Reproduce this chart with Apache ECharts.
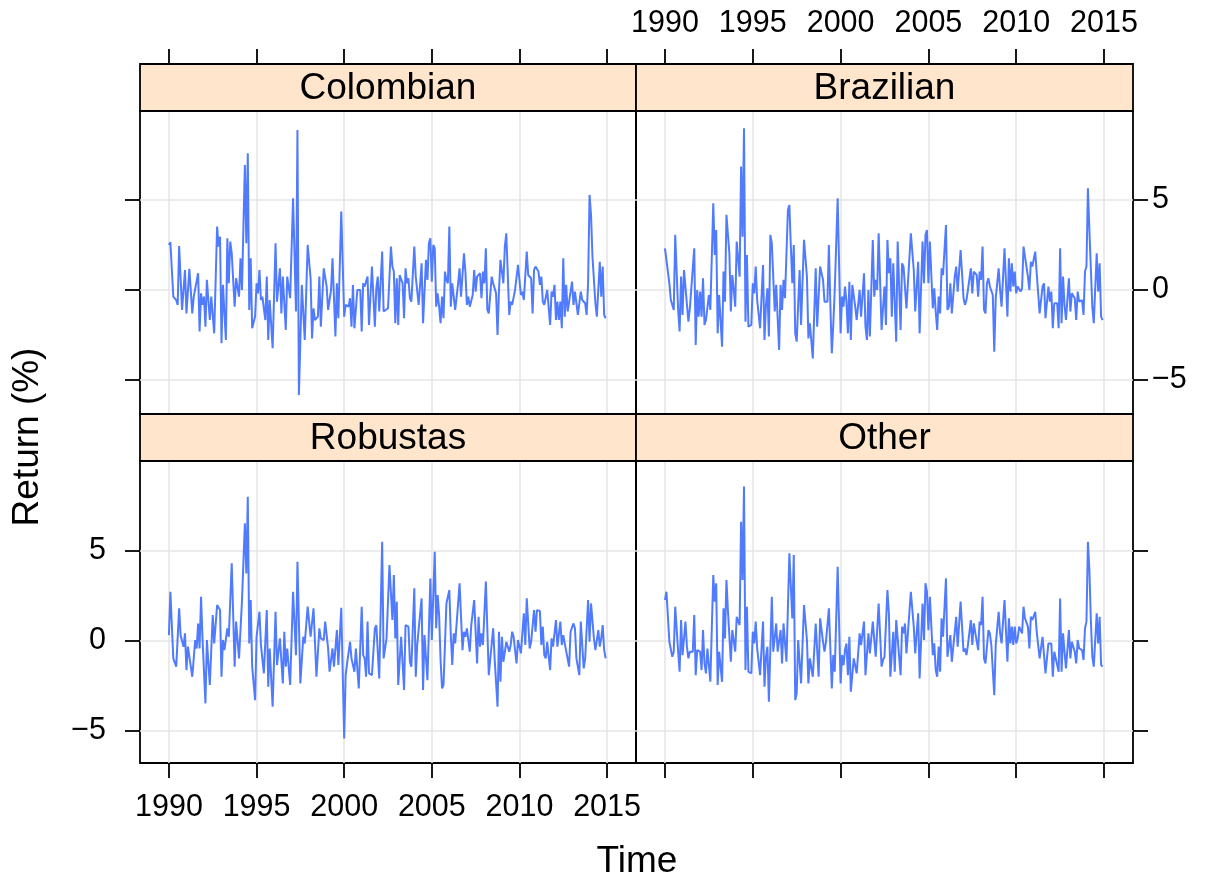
<!DOCTYPE html>
<html>
<head>
<meta charset="utf-8">
<script src="https://cdn.jsdelivr.net/npm/echarts@6/dist/echarts.min.js"></script>
<style>
  html, body { margin: 0; padding: 0; background: #fff; }
  #chart { width: 1211px; height: 879px; }
</style>
</head>
<body>
<div id="chart"></div>
<script>
// Monthly coffee price returns (%), one panel per coffee type.
const panelNames = ['Colombian', 'Brazilian', 'Robustas', 'Other'];
const yearTicks = [1990, 1995, 2000, 2005, 2010, 2015];
const returnTicks = [-5, 0, 5];
const startYear = 1990;

// [months since Jan 1990, return %]
const colombian = [[0,2.50],[1,2.65],[3,-0.37],[5,-0.56],[6,-0.83],[7,2.44],[9,-1.11],[11,1.11],[12,-1.30],[14,1.17],[16,-1.30],[17,-0.37],[18,-0.28],[20,0.93],[21,-2.31],[22,-0.19],[23,-0.83],[24,-0.37],[25,-2.04],[26,0.56],[28,-1.67],[29,-0.37],[31,-2.41],[33,3.52],[34,2.41],[35,2.96],[36,-2.96],[37,0.28],[39,-2.78],[40,2.87],[41,0.37],[42,2.69],[43,2.04],[45,-0.93],[46,0.65],[48,-0.37],[49,1.76],[50,0],[52,6.94],[53,2.59],[54,7.59],[55,-1.11],[56,1.76],[57,-2.13],[59,-1.48],[60,0.37],[61,-0.19],[62,1.11],[63,-0.56],[64,-0.37],[66,-1.67],[67,0.74],[68,-2.78],[69,-0.56],[71,-3.24],[73,2.59],[74,-0.65],[76,1.20],[77,-1.30],[78,0.74],[80,-2.22],[81,0.74],[83,-0.46],[85,5.09],[87,-1.20],[88,8.89],[89,-5.83],[91,0.28],[93,-2.78],[95,2.50],[97,0.65],[98,-2.69],[99,-1.02],[100,-1.67],[102,-1.48],[103,0.74],[104,-2.04],[106,1.20],[108,0.19],[109,-1.11],[111,0],[112,1.76],[114,-2.59],[115,0.37],[116,-1.57],[118,4.35],[120,-1.48],[121,-0.83],[123,-0.93],[124,-0.46],[125,-2.04],[126,0.28],[127,-2.13],[129,0],[131,0],[132,-2.31],[133,0.37],[134,0.19],[136,0.74],[137,-1.94],[139,1.30],[141,-2.04],[142,0.09],[143,0.74],[144,-1.20],[146,2.13],[147,-1.20],[150,-1.02],[151,-0.93],[152,2.41],[153,1.30],[154,1.02],[155,-1.85],[156,0.65],[157,-1.94],[158,0.83],[160,0.37],[161,-1.57],[162,1.20],[163,0.37],[164,0.65],[165,-0.46],[166,-0.65],[168,2.41],[169,0.74],[171,-0.83],[173,1.48],[174,-1.85],[176,1.67],[177,0.56],[178,2.59],[179,2.87],[180,0.46],[181,2.50],[182,2.31],[183,-0.93],[184,-0.19],[185,-0.93],[186,-1.85],[187,-0.37],[188,-1.57],[189,1.02],[190,0.56],[191,0.37],[192,3.52],[193,-0.93],[194,0.37],[196,-1.11],[197,-1.20],[198,0.37],[199,1.20],[200,-0.37],[202,2.04],[203,1.02],[204,-0.83],[205,-0.37],[206,-0.93],[208,-0.28],[209,1.11],[210,-0.09],[211,0.74],[213,0.93],[214,-0.46],[215,1.02],[216,0.37],[217,2.31],[218,-1.11],[219,-1.30],[221,0.74],[222,0.37],[223,0.09],[224,-0.19],[225,-2.50],[226,0],[227,1.67],[229,0.37],[230,2.41],[231,3.15],[232,3.06],[233,-1.39],[234,-0.65],[235,-0.83],[237,0],[238,0.09],[239,1.39],[240,1.48],[241,-0.28],[242,-0.09],[243,-0.56],[245,2.13],[246,0.83],[248,0.65],[249,-1.30],[250,1.11],[251,1.30],[253,1.02],[254,0.28],[255,0.74],[256,-0.65],[257,-0.83],[259,0],[260,0.09],[261,-1.94],[262,-0.09],[263,-0.37],[264,0.28],[265,-1.67],[266,-0.65],[267,-1.67],[268,-0.65],[269,-2.13],[270,1.76],[271,-1.48],[272,0.28],[273,-1.20],[274,-1.30],[276,0.46],[277,-0.83],[278,-0.09],[279,0],[280,-1.39],[282,-0.09],[283,-0.56],[284,-0.65],[285,-0.74],[286,-1.39],[287,0.37],[288,5.28],[289,4.17],[290,1.85],[292,-0.74],[293,-1.48],[295,1.57],[296,-0.37],[297,1.30],[298,-1.39],[299,-1.57]];

const brazilian = [[0,2.31],[1,2.41],[3,0.37],[4,-0.56],[6,-1.11],[7,3.06],[9,-1.11],[10,-2.31],[11,0.74],[12,-1.39],[13,1.11],[14,1.20],[16,-1.76],[17,-1.02],[18,-0.93],[20,2.31],[21,-3.06],[22,0],[23,-1.48],[24,-0.09],[25,-1.48],[26,0.65],[27,-1.94],[28,-1.67],[30,-0.28],[31,-1.11],[33,4.81],[34,1.94],[35,3.33],[36,-2.41],[37,-0.28],[39,-3.15],[40,1.02],[41,-0.65],[42,4.17],[44,2.04],[45,-1.20],[46,0.83],[47,0],[48,-0.93],[49,2.69],[51,0.74],[52,6.85],[53,2.96],[54,8.98],[55,-1.76],[56,1.94],[57,-2.04],[59,-1.94],[60,0.37],[61,-0.19],[62,1.30],[63,-0.56],[64,-0.56],[65,-2.13],[67,1.39],[68,-2.78],[69,-0.83],[70,0.09],[71,-2.59],[72,3.06],[73,2.59],[75,-1.20],[76,0.28],[77,-1.57],[78,-3.33],[79,0.28],[80,-1.11],[81,0.56],[82,-0.46],[84,4.44],[85,4.72],[86,2.41],[87,0.37],[88,2.50],[89,-2.41],[90,-2.87],[91,-0.83],[92,1.11],[93,-1.94],[95,2.78],[97,0.74],[98,-2.69],[99,-1.85],[101,-3.80],[103,1.20],[104,-2.04],[106,1.30],[108,0.56],[109,-0.65],[111,-0.65],[112,2.50],[113,-0.83],[114,-3.52],[115,-1.94],[116,0],[118,5.09],[120,-2.41],[121,-0.37],[122,-0.93],[123,0.19],[124,-0.65],[125,-2.41],[126,0.46],[127,-2.78],[128,0.28],[129,0.37],[130,-0.93],[131,-1.67],[133,0],[134,-1.48],[136,0.93],[137,-2.04],[138,-2.78],[139,0],[140,-2.59],[142,2.78],[143,-0.37],[144,0.56],[145,0],[146,3.15],[148,-2.22],[150,0.19],[151,-1.94],[152,2.78],[153,0.93],[154,1.76],[155,-1.48],[156,1.48],[158,-2.87],[159,2.69],[161,-2.22],[162,1.48],[163,1.30],[165,-1.02],[166,-1.02],[168,3.15],[170,1.11],[171,-1.20],[173,1.57],[174,-2.41],[176,2.69],[177,0.37],[178,3.06],[179,3.33],[180,0.37],[181,2.69],[182,2.69],[183,-1.02],[184,0.09],[185,-1.20],[186,-2.22],[187,-0.37],[188,-1.30],[189,1.20],[190,0.83],[192,3.61],[193,-1.11],[194,-0.93],[195,0.37],[196,-1.30],[197,-1.30],[198,0.74],[199,1.30],[200,-0.09],[202,2.22],[203,0.93],[204,-0.46],[205,-0.83],[206,-0.56],[207,0],[209,1.20],[210,-0.19],[211,1.02],[213,0.83],[214,-0.37],[215,1.02],[216,0.56],[217,2.41],[218,-1.11],[219,-1.30],[220,0.37],[221,0.65],[222,0.19],[224,-0.28],[225,-3.43],[226,-0.46],[227,-0.46],[228,1.20],[229,0],[230,-0.93],[232,2.31],[234,-1.48],[235,1.76],[236,-0.09],[237,1.48],[238,0.19],[239,1.02],[240,-0.19],[241,0.19],[242,0.28],[243,-0.09],[244,0.09],[245,2.41],[246,1.85],[248,0.74],[249,0],[250,1.57],[251,1.30],[252,1.39],[253,2.13],[254,0.93],[255,0.83],[256,-1.30],[258,0.19],[259,0.37],[260,-1.57],[262,0.19],[263,-0.65],[264,-0.09],[265,-2.13],[266,-0.74],[268,-0.74],[269,-2.13],[270,2.31],[271,-1.85],[272,0.74],[273,-0.83],[274,-1.67],[276,0.65],[277,-1.20],[278,-0.19],[280,-0.46],[281,-1.67],[282,-0.09],[283,-0.65],[284,-0.74],[285,-0.56],[286,-1.39],[287,1.02],[288,1.30],[289,5.65],[290,3.33],[291,1.20],[292,-0.93],[293,-1.85],[295,2.04],[296,-0.09],[297,1.48],[298,-1.48],[299,-1.67]];

const robustas = [[0,0.31],[1,2.72],[3,-0.98],[5,-1.44],[7,1.80],[8,0.31],[10,-0.33],[11,0.41],[12,-1.63],[13,-0.33],[14,-0.24],[16,-2.00],[18,0.04],[19,-0.43],[20,0.96],[21,-0.43],[22,2.44],[23,0.13],[25,-3.48],[26,0.04],[28,-2.46],[30,1.43],[31,-0.15],[33,1.98],[34,1.98],[35,1.70],[36,-2.00],[37,0.04],[38,-0.52],[39,-0.61],[40,0.69],[41,0.22],[43,4.30],[45,-1.44],[46,1.06],[48,-0.98],[50,2.17],[52,6.52],[53,3.74],[54,8.00],[55,-0.15],[56,2.26],[57,-1.44],[59,-3.30],[60,0.22],[62,1.61],[63,-0.24],[65,-1.81],[67,1.70],[68,-2.56],[69,-0.43],[70,-0.43],[71,-3.67],[73,1.61],[74,-1.35],[76,0.13],[78,-2.37],[79,0.50],[80,-1.44],[81,-0.43],[83,-2.46],[85,2.72],[87,-0.80],[88,4.39],[90,-2.37],[92,0.22],[93,-0.15],[95,1.89],[97,0.22],[99,1.80],[101,-2.00],[103,0.69],[104,0.13],[106,0.04],[107,1.06],[109,-0.43],[110,-1.72],[112,-0.43],[113,-1.44],[115,0.59],[116,-1.35],[118,1.83],[120,-5.43],[121,-1.91],[122,-1.26],[124,-0.06],[125,-0.98],[126,-1.07],[127,-1.72],[128,-0.43],[130,-2.65],[132,1.89],[133,-0.80],[134,-0.98],[135,-2.00],[136,1.06],[137,-1.81],[139,-1.91],[141,0.69],[142,0.87],[143,0.96],[144,-2.09],[146,5.50],[147,-0.98],[149,0.13],[150,0.22],[151,4.20],[153,1.15],[154,3.65],[155,0.13],[156,2.17],[157,-2.46],[159,0.22],[161,-2.74],[162,0.87],[164,0.78],[165,-1.17],[166,-1.44],[168,2.91],[169,-2.00],[170,-0.24],[171,-0.15],[173,2.35],[174,-2.74],[175,0.31],[177,-2.19],[179,3.46],[180,0.04],[182,4.94],[183,0.69],[184,2.54],[185,1.43],[186,-1.07],[187,-2.65],[188,-2.46],[190,2.07],[192,2.81],[193,0.31],[194,-1.35],[195,0.41],[196,-0.15],[197,-0.06],[199,3.19],[201,-0.52],[202,0.50],[203,0.22],[204,0.69],[206,-0.61],[207,0.87],[209,2.26],[211,-1.26],[212,1.33],[213,-0.33],[214,0.41],[215,-0.24],[217,3.28],[219,-1.91],[222,0.69],[223,-0.98],[225,-3.67],[226,0.50],[227,-2.28],[228,0.22],[229,-1.17],[231,-0.06],[233,-0.61],[234,-0.24],[235,0.50],[236,0.22],[238,-1.26],[239,0.04],[240,-0.06],[241,-0.70],[243,1.52],[244,-0.24],[245,2.35],[247,-0.43],[248,-0.06],[250,1.70],[251,0.50],[252,1.70],[254,1.65],[255,-0.24],[256,0.78],[257,-0.80],[258,-0.98],[259,-0.06],[261,-1.63],[262,0.13],[263,-0.33],[265,1.15],[266,-0.33],[268,1.06],[269,-0.24],[270,0.31],[271,-0.15],[272,-0.24],[274,-1.44],[275,0.50],[277,0.96],[278,0.69],[279,-0.98],[281,-1.91],[282,1.06],[284,-1.54],[285,-0.98],[286,-1.07],[287,2.26],[288,-0.06],[289,2.07],[291,0.13],[292,-0.52],[294,0.59],[295,-0.33],[296,0.13],[297,0.87],[298,-0.52],[299,-0.98]];

const other = [[0,2.26],[1,2.72],[3,-0.06],[5,-0.89],[6,-0.61],[7,1.89],[9,-0.61],[10,-1.72],[11,1.15],[12,-0.80],[14,1.06],[15,-0.33],[16,-0.98],[17,-0.61],[19,-0.61],[20,1.43],[21,-1.91],[22,-0.52],[24,-0.61],[25,-1.63],[26,0.59],[27,-1.26],[28,-1.81],[29,-0.43],[31,-2.28],[33,3.65],[34,2.17],[35,3.19],[36,-2.46],[37,-0.61],[39,-2.28],[40,1.80],[41,0.13],[42,3.37],[43,1.70],[45,-1.17],[46,0.59],[47,0.69],[48,-0.61],[49,1.33],[51,0.87],[52,6.61],[53,3.37],[54,8.56],[55,-1.63],[56,1.89],[57,-1.72],[59,-1.81],[60,0.50],[61,-0.15],[62,1.06],[63,-0.43],[64,-0.52],[65,-1.91],[67,1.06],[68,-2.56],[69,-0.89],[70,-0.33],[71,-3.39],[73,2.44],[74,-0.61],[76,0.96],[77,-0.61],[78,-0.52],[79,0.59],[80,-1.26],[81,0.96],[83,-1.17],[85,4.85],[87,1.24],[88,4.76],[89,-3.30],[90,-2.93],[91,0.04],[92,-0.06],[93,-2.37],[95,1.98],[97,0.04],[98,-2.37],[99,-0.98],[101,-2.00],[103,0.96],[105,-2.00],[106,1.24],[108,-0.06],[109,-0.61],[110,-0.06],[112,1.80],[114,-2.65],[115,-0.80],[116,-1.72],[118,4.11],[120,-2.37],[121,-0.80],[122,-1.35],[123,-0.52],[124,-0.15],[125,-1.91],[126,0.22],[127,-2.83],[129,-0.98],[130,-0.89],[131,-1.81],[133,0.41],[134,-0.24],[136,1.06],[137,-1.91],[138,-2.00],[139,0.41],[140,-0.70],[141,-0.70],[142,1.06],[144,-0.89],[145,0.59],[146,2.07],[148,-1.44],[149,-1.07],[150,-0.89],[152,2.81],[153,1.52],[154,-2.00],[156,0.50],[157,-1.72],[158,1.15],[161,-1.91],[162,0.78],[163,0.41],[164,0.96],[165,-0.70],[166,-0.70],[168,2.72],[170,0.78],[171,-0.70],[173,1.52],[174,-2.09],[176,2.07],[177,0.04],[178,3.19],[179,2.72],[180,0.59],[181,2.44],[182,2.44],[183,-0.80],[184,-0.15],[185,-1.63],[186,-2.00],[187,-0.33],[188,-1.72],[189,1.24],[190,0.22],[192,3.46],[193,-0.89],[194,-0.98],[195,0.31],[196,-1.17],[197,-1.17],[199,1.33],[200,-0.33],[202,2.17],[203,0.78],[204,-0.61],[205,-0.43],[206,-0.80],[207,-0.24],[209,1.15],[210,-0.24],[211,0.96],[212,0.96],[214,-0.52],[215,1.06],[216,0.87],[217,2.44],[218,-0.98],[219,-1.26],[221,0.59],[222,0.41],[223,-0.24],[225,-3.02],[226,-0.24],[227,-0.33],[228,1.61],[229,0.41],[230,-0.15],[232,2.26],[234,-1.17],[235,1.24],[236,-0.15],[237,0.78],[238,-0.24],[239,0.78],[240,-0.15],[241,0.13],[242,0.78],[243,0.59],[244,0.41],[245,1.89],[246,1.24],[248,0.78],[249,-0.43],[250,1.33],[251,1.15],[252,1.15],[253,1.61],[254,0.50],[255,0.44],[256,-0.98],[258,0.22],[259,0.31],[260,-1.81],[262,-0.15],[263,-0.06],[264,-0.15],[265,-2.00],[266,-0.61],[267,-0.70],[269,-1.72],[270,2.35],[271,-1.72],[272,0.41],[273,-0.61],[274,-1.54],[276,0.59],[277,-0.98],[278,-0.06],[280,-0.61],[281,-1.26],[282,0.04],[283,-0.43],[285,-0.52],[286,-1.07],[287,0.69],[288,1.06],[289,5.50],[290,3.93],[291,1.15],[292,-0.89],[293,-1.44],[295,1.52],[296,-0.15],[297,1.33],[298,-1.35],[299,-1.44]];

const panelData = [colombian, brazilian, robustas, other];

const FONT = '"Liberation Sans", Arial, Helvetica, sans-serif';
const LINE_COLOR = '#507bff';
const STRIP_FILL = '#ffe5cc';
const GRID_COLOR = '#e6e6e6';
const STRIP_H = 47;

// 2 x 2 panel layout (pixels)
const panels = [
  { left: 140, top: 111, width: 496, height: 303, yMin: -6.89, yMax: 9.94 },
  { left: 636, top: 111, width: 497, height: 303, yMin: -6.89, yMax: 9.94 },
  { left: 140, top: 461, width: 496, height: 302, yMin: -6.79, yMax: 9.98 },
  { left: 636, top: 461, width: 497, height: 302, yMin: -6.79, yMax: 9.98 }
];

const tickStyle = { color: '#000', width: 1.8 };
const minusFmt = v => (v < 0 ? '\u2212' + Math.abs(v) : String(v));

const grid = panels.map(p => ({
  left: p.left, top: p.top, width: p.width, height: p.height,
  show: true, borderColor: '#000', borderWidth: 1.8, backgroundColor: 'transparent',
  containLabel: false
}));

const xAxis = panels.map((p, i) => ({
  gridIndex: i, type: 'value', min: 1988.35, max: 2016.65,
  position: i < 2 ? 'top' : 'bottom',
  offset: i < 2 ? STRIP_H : 0,
  axisLine: { show: false, onZero: false },
  axisTick: { show: true, inside: false, length: 15, lineStyle: tickStyle, customValues: yearTicks },
  axisLabel: {
    show: i === 1 || i === 2, customValues: yearTicks,
    fontSize: 30.5, fontFamily: FONT, color: '#000',
    margin: i < 2 ? 25 : 29, formatter: v => String(v)
  },
  splitLine: { show: true, lineStyle: { color: GRID_COLOR, width: 1.6 } }
}));

const yAxis = panels.map((p, i) => ({
  gridIndex: i, type: 'value', min: p.yMin, max: p.yMax,
  position: i % 2 === 0 ? 'left' : 'right',
  axisLine: { show: false, onZero: false },
  axisTick: { show: true, inside: false, length: 15, lineStyle: tickStyle, customValues: returnTicks },
  axisLabel: {
    show: i === 1 || i === 2, customValues: returnTicks,
    fontSize: 30.5, fontFamily: FONT, color: '#000',
    margin: i === 2 ? 34 : 19, formatter: minusFmt
  },
  splitLine: { show: true, lineStyle: { color: GRID_COLOR, width: 1.6 } }
}));

const series = panelData.map((rows, i) => ({
  type: 'line', xAxisIndex: i, yAxisIndex: i,
  data: rows.map(([m, v]) => [startYear + m / 12, v]),
  showSymbol: false, symbol: 'none', clip: true,
  lineStyle: { color: LINE_COLOR, width: 2 },
  itemStyle: { color: LINE_COLOR },
  z: 3
}));

// strip headers and axis titles
const graphic = [];
panels.forEach((p, i) => {
  graphic.push({
    type: 'rect', z: 10,
    shape: { x: p.left, y: p.top - STRIP_H, width: p.width, height: STRIP_H },
    style: { fill: STRIP_FILL, stroke: '#000', lineWidth: 1.8 }
  });
  graphic.push({
    type: 'text', z: 11,
    x: p.left + p.width / 2, y: p.top - STRIP_H / 2 + 1,
    style: { text: panelNames[i], fontSize: 37, fontFamily: FONT, fill: '#000', align: 'center', verticalAlign: 'middle' }
  });
});
graphic.push({
  type: 'text', x: 637, y: 862,
  style: { text: 'Time', fontSize: 37, fontFamily: FONT, fill: '#000', align: 'center', verticalAlign: 'middle' }
});
graphic.push({
  type: 'text', x: 28, y: 437, rotation: Math.PI / 2,
  style: { text: 'Return (%)', fontSize: 37, fontFamily: FONT, fill: '#000', align: 'center', verticalAlign: 'middle' }
});

const chart = echarts.init(document.getElementById('chart'), null, { renderer: 'canvas' });
chart.setOption({
  animation: false,
  backgroundColor: '#fff',
  grid, xAxis, yAxis, series, graphic
});
</script>
</body>
</html>
